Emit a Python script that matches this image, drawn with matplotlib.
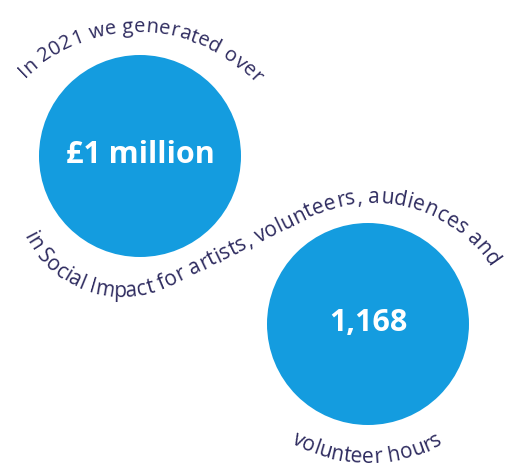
import numpy as np
import matplotlib
matplotlib.use("Agg")
import matplotlib.pyplot as plt
from matplotlib.patches import Circle
from matplotlib.font_manager import FontProperties

W, H = 513, 473

# 数据
figures = ["£1 million", "1,168"]
captions = ["In 2021 we generated over",
            "in Social Impact for artists, volunteers, audiences and",
            "volunteer hours"]

BLUE = "#149cdf"
NAVY = "#2e2b5f"
FONT = "Open Sans"

# bubble centres / radius, image pixels (y from top)
bubbles = [(140, 156, 101), (368, 324, 101)]


def arc(cx, cy, r, a0, a1, n=300):
    # cy given from top of image, angles in degrees (y up)
    t = np.radians(np.linspace(a0, a1, n))
    return np.column_stack([cx + r * np.cos(t), (H - cy) + r * np.sin(t)])


def s_curve(ca, ra, a0, cb, rb, a1):
    # arc round the first centre (ccw), common tangent, arc round the second (cw)
    pa = np.array([ca[0], H - ca[1]], float)
    pb = np.array([cb[0], H - cb[1]], float)
    d = pb - pa
    alpha = np.degrees(np.arctan2(d[1], d[0]))
    phi = alpha + np.degrees(np.arcsin((ra + rb) / np.hypot(*d)))
    first = arc(ca[0], ca[1], ra, a0, phi - 90 + 360)
    second = arc(cb[0], cb[1], rb, phi + 90, a1)
    line = np.linspace(first[-1], second[0], 100)
    return np.vstack([first, line[1:-1], second])


def text_on_path(ax, pts, s, size, color, track=0.0):
    renderer = ax.figure.canvas.get_renderer()
    prop = FontProperties(family=FONT, size=size)

    def width(t):
        return renderer.get_text_width_height_descent(t, prop, ismath=False)[0]

    def adv(t):
        return width(t + "x") - width("x") + track * len(t)

    dist = np.concatenate([[0], np.cumsum(np.hypot(*np.diff(pts, axis=0).T))])
    start = (dist[-1] - adv(s)) / 2
    for i, ch in enumerate(s):
        if ch == " ":
            continue
        d = start + (adv(s[:i]) + adv(s[:i + 1]) - track) / 2
        x = np.interp(d, dist, pts[:, 0])
        y = np.interp(d, dist, pts[:, 1])
        k = int(np.clip(np.searchsorted(dist, d), 1, len(pts) - 1))
        dx, dy = pts[k] - pts[k - 1]
        ang = np.degrees(np.arctan2(dy, dx))
        ax.text(x, y, ch, fontproperties=prop, color=color, rotation=ang,
                rotation_mode="anchor", ha="center", va="baseline")


fig = plt.figure(figsize=(W / 100, H / 100), dpi=100, facecolor="white")
ax = fig.add_axes([0, 0, 1, 1])
ax.set_xlim(0, W)
ax.set_ylim(0, H)
ax.set_aspect("equal")
ax.axis("off")

for (cx, cy, r), label in zip(bubbles, figures):
    ax.add_patch(Circle((cx, H - cy), r, color=BLUE, lw=0))
    ax.text(cx, H - cy - 7, label, color="white", fontsize=22,
            fontweight="bold", family=FONT, ha="center", va="baseline")

paths = [
    arc(137, 192, 160, 137, 40),
    s_curve((122, 187), 110, 206, (372, 343), 140, 32),
    arc(367, 305, 158, 240, 300),
]
sizes = [14.5, 15, 15]
for pts, cap, fs in zip(paths, captions, sizes):
    text_on_path(ax, pts, cap, fs, NAVY, track=0.3)

fig.savefig("out.png", dpi=100, facecolor="white")
